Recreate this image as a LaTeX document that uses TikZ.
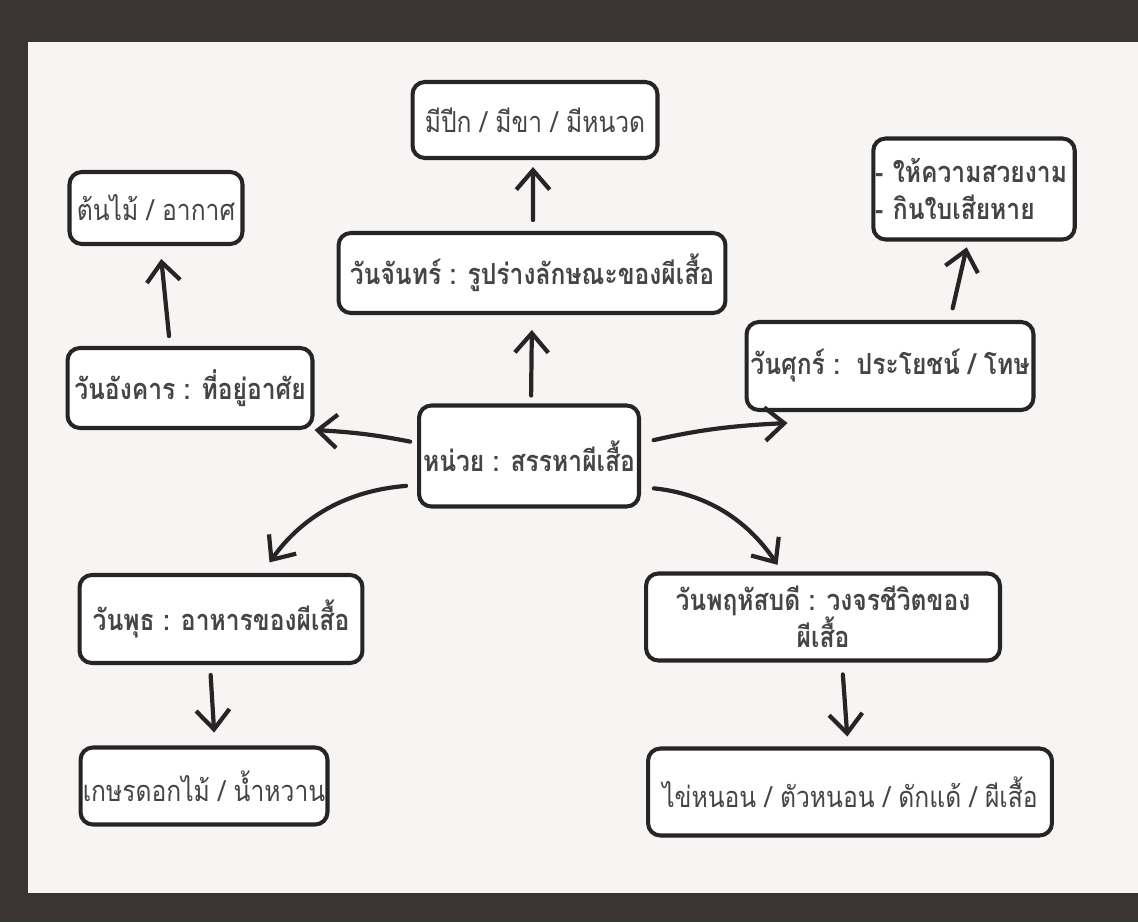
\documentclass[tikz,border=0pt]{standalone}
\usepackage{fontspec}
\newfontfamily\thaifont[Script=Thai, FakeStretch=0.85]{Loma}
\usetikzlibrary{arrows.meta}
\definecolor{framecol}{HTML}{3A3533}
\definecolor{paper}{HTML}{F6F5F3}
\definecolor{ink}{HTML}{262424}
\definecolor{txt}{HTML}{474544}
\begin{document}
\begin{tikzpicture}[x=0.02cm, y=-0.02cm,
    box/.style={draw=ink, line width=2.3pt, rounded corners=7pt, fill=white, text=txt, inner sep=1pt,
      font=\thaifont\bfseries\fontsize{16.5}{21}\selectfont},
    plain/.style={box, font=\thaifont\fontsize{16.5}{21}\selectfont},
    arr/.style={draw=ink, line width=2.4pt, line cap=round,
      -{Straight Barb[length=11pt,width=19pt,line width=2.4pt]}}]
    % background: photo frame and sheet
    \fill[framecol] (0,0) rectangle (1138,922);
    \fill[paper] (28,42) rectangle (1138,893);
    \useasboundingbox (0,0) rectangle (1138,922);

    \node[box] (unit) at (529,456) [minimum width=4.4cm, minimum height=2.02cm] {หน่วย : สรรหาผีเสื้อ};
    \node[box] (monday) at (532,273) [minimum width=7.74cm, minimum height=1.6cm] {วันจันทร์ : รูปร่างลักษณะของผีเสื้อ};
    \node[plain] (wings) at (535,120) [minimum width=4.9cm, minimum height=1.52cm] {มีปีก / มีขา / มีหนวด};
    \node[box] (tuesday) at (190,388) [minimum width=4.9cm, minimum height=1.6cm] {วันอังคาร : ที่อยู่อาศัย};
    \node[plain] (habitat) at (156,208) [minimum width=3.46cm, minimum height=1.44cm] {ต้นไม้ / อากาศ};
    \node[box] (friday) at (890,366) [minimum width=5.74cm, minimum height=1.76cm] {วันศุกร์ :\ \ ประโยชน์ / โทษ};
    \node[box, align=left, text width=3.96cm] (proscons) at (974,189) [minimum height=2.02cm]
      {- ให้ความสวยงาม\\- กินใบเสียหาย};
    \node[box] (wednesday) at (221,619) [minimum width=5.66cm, minimum height=1.76cm] {วันพุธ : อาหารของผีเสื้อ};
    \node[plain] (food) at (204,786) [minimum width=4.94cm, minimum height=1.54cm] {เกษรดอกไม้ / น้ำหวาน};
    \node[box, align=center] (thursday) at (823,617) [minimum width=7.08cm, minimum height=1.74cm]
      {วันพฤหัสบดี : วงจรชีวิตของ\\ผีเสื้อ};
    \node[plain] (cycle) at (850,792) [minimum width=8.08cm, minimum height=1.74cm] {ไข่หนอน / ตัวหนอน / ดักแด้ / ผีเสื้อ};

    % arrows
    \draw[arr, shorten <=0.16cm, shorten >=0.3cm] ([xshift=0.04cm]unit.north) -- (monday.south);
    \draw[arr, shorten <=0.22cm, shorten >=0.14cm] ([xshift=0.02cm]monday.north) -- ([xshift=-0.04cm]wings.south);
    \draw[arr, shorten <=0.2cm, shorten >=0.26cm] ([xshift=-0.4cm]tuesday.north) -- ([xshift=0.08cm]habitat.south);
    \draw[arr, shorten <=0.24cm, shorten >=0.12cm] ([xshift=1.2cm]friday.north) -- ([xshift=-0.12cm]proscons.south);
    \draw[arr, shorten <=0.14cm] ([yshift=0.26cm]unit.west) to[bend right=4] (tuesday.south east);
    \draw[arr, shorten <=0.26cm] ([yshift=0.26cm]unit.east) to[bend left=5] ([xshift=0.86cm,yshift=-0.22cm]friday.south west);
    \draw[arr, shorten <=0.22cm, shorten >=0.26cm] ([yshift=-0.58cm]unit.west) to[bend right=25] ([xshift=0.82cm]wednesday.north);
    \draw[arr, shorten <=0.26cm, shorten >=0.16cm] ([yshift=-0.62cm]unit.east) to[bend left=25] ([xshift=-0.82cm]thursday.north);
    \draw[arr, shorten <=0.2cm, shorten >=0.26cm] ([xshift=-0.22cm]wednesday.south) -- ([xshift=0.22cm]food.north);
    \draw[arr, shorten <=0.24cm, shorten >=0.2cm] ([xshift=0.38cm]thursday.south) -- ([xshift=-0.04cm]cycle.north);
\end{tikzpicture}
\end{document}
